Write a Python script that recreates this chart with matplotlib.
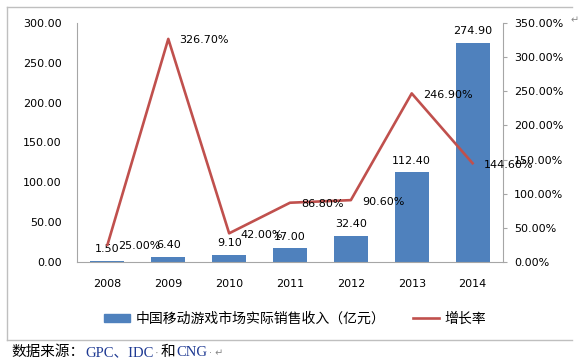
import matplotlib
matplotlib.use("Agg")
import matplotlib.pyplot as plt
import numpy as np
from matplotlib.lines import Line2D
from matplotlib.patches import Patch
from matplotlib.offsetbox import TextArea, HPacker, AnnotationBbox
from matplotlib.ticker import FormatStrFormatter

plt.rcParams['font.family'] = ['DejaVu Sans', 'Noto Sans CJK SC']

years = ['2008', '2009', '2010', '2011', '2012', '2013', '2014']
revenue = [1.50, 6.40, 9.10, 17.00, 32.40, 112.40, 274.90]  # 亿元
growth = [25.00, 326.70, 42.00, 86.80, 90.60, 246.90, 144.60]  # %

bar_name = '中国移动游戏市场实际销售收入（亿元）'
line_name = '增长率'
blue = '#4F81BD'
red = '#C0504D'
grey = '#A6A6A6'

fig = plt.figure(figsize=(5.85, 3.61), dpi=100)
ax = fig.add_axes([77 / 585, 1 - 262 / 361, 426 / 585, 239 / 361])
ax2 = ax.twinx()

x = np.arange(len(years))
ax.bar(x, revenue, width=0.56, color=blue, zorder=2)
ax2.plot(x, growth, color=red, lw=1.9, zorder=3)

ax.set_xlim(-0.5, len(years) - 0.5)
ax.set_ylim(0, 300)
ax.set_yticks(np.arange(0, 301, 50))
ax.yaxis.set_major_formatter(FormatStrFormatter('%.2f'))
ax2.set_ylim(0, 350)
ax2.set_yticks(np.arange(0, 351, 50))
ax2.yaxis.set_major_formatter(FormatStrFormatter('%.2f%%'))
ax.set_xticks(x)
ax.set_xticklabels(years)

for a in (ax, ax2):
    for s in a.spines.values():
        s.set_visible(False)
ax.spines['left'].set_visible(True)
ax.spines['bottom'].set_visible(True)
ax2.spines['right'].set_visible(True)
for s in (ax.spines['left'], ax.spines['bottom'], ax2.spines['right']):
    s.set_color(grey)
    s.set_linewidth(0.8)

ax.tick_params(axis='y', length=0, pad=11, labelsize=8)
ax.tick_params(axis='x', length=0, pad=12, labelsize=8)
ax2.tick_params(axis='y', length=3, width=0.8, color=grey, pad=5, labelsize=8)

# value labels, placed like the original (some overlap there too)
for xi, v in zip(x, revenue):
    ax.annotate('%.2f' % v, (xi, v), xytext=(0, 5), textcoords='offset points',
                ha='center', va='bottom', fontsize=8, zorder=4)
for xi, g in zip(x, growth):
    ax2.annotate('%.2f%%' % g, (xi, g), xytext=(8, -1), textcoords='offset points',
                 ha='left', va='center', fontsize=8, zorder=4)

handles = [Patch(color=blue), Line2D([], [], color=red, lw=1.9)]
fig.legend(handles, [bar_name, line_name], loc='center', ncol=2,
           bbox_to_anchor=(0.504, 1 - 319 / 361), frameon=False,
           prop={'family': ['Noto Sans CJK SC'], 'size': 10},
           handlelength=1.9, handleheight=0.55, handletextpad=0.35, columnspacing=2.0)

# outer frame (left, top, bottom)
fx0, fx1 = 7 / 585, 572 / 585
fy0, fy1 = 1 - 340 / 361, 1 - 7 / 361
fig.add_artist(Line2D([fx0, fx1], [fy1, fy1], color='#BFBFBF', lw=1))
fig.add_artist(Line2D([fx0, fx1], [fy0, fy0], color='#BFBFBF', lw=1))
fig.add_artist(Line2D([fx0, fx0], [fy0, fy1], color='#BFBFBF', lw=1))
fig.text(575 / 585, 1 - 20 / 361, '↵', fontsize=7, color='#888888', ha='center', va='center')

# source line
cjk = ['Noto Sans CJK SC']
serif = ['Liberation Serif', 'Noto Sans CJK SC']
parts = [
    TextArea('数据来源：', textprops=dict(family=cjk, size=10.5, color='black')),
    TextArea('GPC、IDC', textprops=dict(family=serif, size=10.5, color='#1F3A93')),
    TextArea('·', textprops=dict(family=serif, size=8, color='#888888')),
    TextArea('和', textprops=dict(family=cjk, size=10.5, color='black')),
    TextArea('CNG', textprops=dict(family=serif, size=10.5, color='#1F3A93')),
    TextArea('· ↵', textprops=dict(family=['DejaVu Sans'], size=7, color='#888888')),
]
box = HPacker(children=parts, align='baseline', pad=0, sep=1)
ab = AnnotationBbox(box, (11 / 585, 1 - 352 / 361), xycoords='figure fraction',
                    box_alignment=(0, 0.5), frameon=False)
fig.add_artist(ab)

fig.savefig('out.png', dpi=100)
